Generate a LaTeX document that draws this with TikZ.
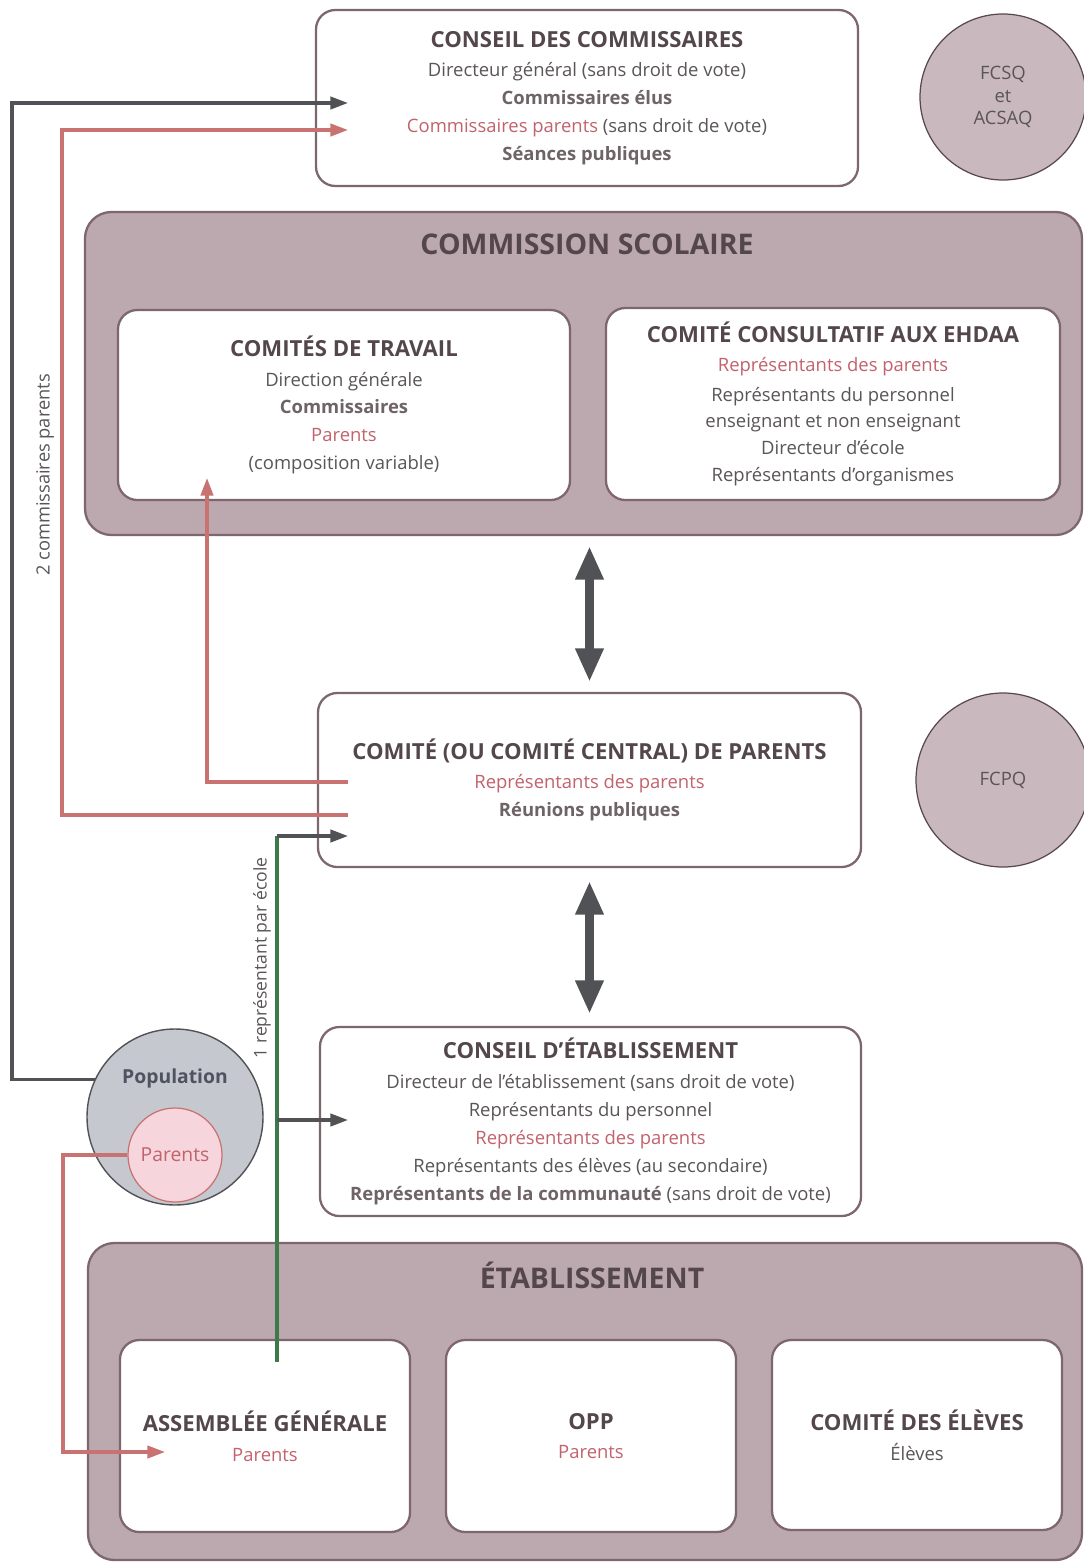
\documentclass[tikz,border=0pt]{standalone}
\usepackage{fontspec}
\setmainfont{Open Sans}
\usetikzlibrary{arrows.meta,positioning,calc}

\definecolor{cadre}{HTML}{7E666D}
\definecolor{mauve}{HTML}{BCA8AF}
\definecolor{titre}{HTML}{54474C}
\definecolor{texte}{HTML}{5A5558}
\definecolor{rose}{HTML}{C2626D}
\definecolor{lienrouge}{HTML}{C87272}
\definecolor{liengris}{HTML}{505255}
\definecolor{lienvert}{HTML}{3C7A48}
\definecolor{rond}{HTML}{C9B8BE}
\definecolor{popul}{HTML}{C6C8CF}
\definecolor{poptexte}{HTML}{4E5360}
\definecolor{rosepale}{HTML}{F6D6DC}

\newcommand{\tete}[1]{{\fontsize{12.6}{15}\selectfont\bfseries\color{titre}#1}}
\newcommand{\rouge}[1]{\textcolor{rose}{#1}}
\newcommand{\gras}[1]{{\bfseries\color{titre!85!white}#1}}

\tikzset{
  taille/.style 2 args={minimum width=#1*0.02cm, minimum height=#2*0.02cm},
  boite/.style={draw=cadre, line width=1.3pt, rounded corners=11pt, fill=white,
    align=center, text=texte, inner sep=0pt, font=\fontsize{10.5}{15.9}\selectfont},
  grande/.style={draw=cadre, line width=1.3pt, rounded corners=15pt, fill=mauve, inner sep=0pt},
  rond/.style={circle, draw=cadre!70!black, line width=0.7pt, fill=rond, align=center,
    text=texte, inner sep=0pt, font=\fontsize{10.5}{13}\selectfont},
  fleche/.style={line width=1.8pt, -{Triangle[length=10pt,width=7pt]}},
  duo/.style={line width=5pt, liengris, {Triangle[length=19pt,width=15pt]}-{Triangle[length=19pt,width=15pt]}},
}

\begin{document}
\begin{tikzpicture}[x=0.02cm, y=-0.02cm]
  \useasboundingbox (0,0) rectangle (1084,1562);

  % Conseil des commissaires
  \node[boite, taille={542}{176}] (conseil) at (587,98)
    {\tete{CONSEIL DES COMMISSAIRES}\\[1pt]
     Directeur général (sans droit de vote)\\
     \gras{Commissaires élus}\\
     \rouge{Commissaires parents} (sans droit de vote)\\
     \gras{Séances publiques}};
  \node[rond, minimum size=166*0.02cm] (fcsq) at (1003,97) {FCSQ\\et\\ACSAQ};

  % Commission scolaire
  \node[grande, taille={997}{323}] (cs) at (583.5,373.5) {};
  \node[font=\fontsize{16.2}{19}\selectfont\bfseries, text=titre] (cstitre) at (587,244) {COMMISSION SCOLAIRE};
  \node[boite, taille={452}{190}] (travail) at (344,405)
    {\tete{COMITÉS DE TRAVAIL}\\[1pt]
     Direction générale\\
     \gras{Commissaires}\\
     \rouge{Parents}\\
     (composition variable)};
  \node[boite, taille={454}{192}, font=\fontsize{10.5}{14.5}\selectfont] (ehdaa) at (833,404)
    {\tete{COMITÉ CONSULTATIF AUX EHDAA}\\[2pt]
     \rouge{Représentants des parents}\\[3pt]
     Représentants du personnel\\
     enseignant et non enseignant\\[1pt]
     Directeur d'école\\[1pt]
     Représentants d'organismes};

  % Comite de parents
  \node[boite, taille={543}{174}] (cp) at (589.5,780)
    {\tete{COMITÉ (OU COMITÉ CENTRAL) DE PARENTS}\\[1pt]
     \rouge{Représentants des parents}\\
     \gras{Réunions publiques}};
  \node[rond, minimum size=174*0.02cm] (fcpq) at (1003,780) {FCPQ};

  % Conseil d'etablissement
  \node[boite, taille={541}{189}] (ce) at (590.5,1121.5)
    {\tete{CONSEIL D'ÉTABLISSEMENT}\\[1pt]
     Directeur de l'établissement (sans droit de vote)\\
     Représentants du personnel\\
     \rouge{Représentants des parents}\\
     Représentants des élèves (au secondaire)\\
     \gras{Représentants de la communauté} (sans droit de vote)};

  % Population
  \node[circle, draw=liengris, line width=0.8pt, fill=popul, minimum size=176*0.02cm] (pop) at (175,1117) {};
  \node[font=\fontsize{11}{13}\selectfont\bfseries, text=poptexte] (poptxt) at (175,1078) {Population};
  \node[circle, draw=lienrouge, line width=0.7pt, fill=rosepale, minimum size=94*0.02cm,
        text=rose, font=\fontsize{11}{13}\selectfont] (par) at (175,1155) {Parents};

  % Etablissement
  \node[grande, taille={994}{317}] (etab) at (585,1401.5) {};
  \node[font=\fontsize{16.2}{19}\selectfont\bfseries, text=titre] (etabtitre) at (592,1275) {ÉTABLISSEMENT};
  \node[boite, taille={290}{192}] (ag) at (265,1436)
    {\tete{ASSEMBLÉE GÉNÉRALE}\\[1pt] \rouge{Parents}};
  \node[boite, taille={290}{192}] (opp) at (591,1436)
    {\tete{OPP}\\[1pt] \rouge{Parents}};
  \node[boite, taille={290}{190}] (eleves) at (917,1435)
    {\tete{COMITÉ DES ÉLÈVES}\\[1pt] Élèves};

  % Points d'entree
  \coordinate (conseilA) at (348,103);
  \coordinate (conseilB) at (348,130);
  \coordinate (travailA) at (207,478);
  \coordinate (cpA) at (348,782);
  \coordinate (cpB) at (348,815);
  \coordinate (cpC) at (348,836);
  \coordinate (ceA) at (348,1120);
  \coordinate (agA) at (277,1362);
  \coordinate (agB) at (165,1452);
  \coordinate (k1) at (277,836);
  \coordinate (k2) at (277,1120);

  % Liens
  \draw[fleche, liengris] (pop.155) -| (12,103) -- (conseilA);
  \draw[fleche, lienrouge] (cpB) -| (62,130) -- (conseilB);
  \draw[fleche, lienrouge] (cpA) -| (travailA);
  \draw[fleche, lienrouge] (par.west) -| (63,1452) -- (agB);
  \draw[lienvert, line width=1.8pt] (agA) -- (k1);
  \draw[fleche, liengris] (k1) -- (cpC);
  \draw[fleche, liengris] (k2) -- (ceA);

  \node[rotate=90, text=texte, font=\fontsize{10.4}{12}\selectfont] (lbl2) at (45,475) {2 commissaires parents};
  \node[rotate=90, text=texte, font=\fontsize{10}{12}\selectfont] (lbl1) at (262,958) {1 représentant par école};

  % Doubles fleches
  \draw[duo, shorten <=0.2cm, shorten >=0.2cm] (cs.south -| cp.north) -- (cp.north);
  \draw[duo, shorten <=0.26cm, shorten >=0.24cm] (cp.south) -- (ce.north -| cp.south);
\end{tikzpicture}
\end{document}
